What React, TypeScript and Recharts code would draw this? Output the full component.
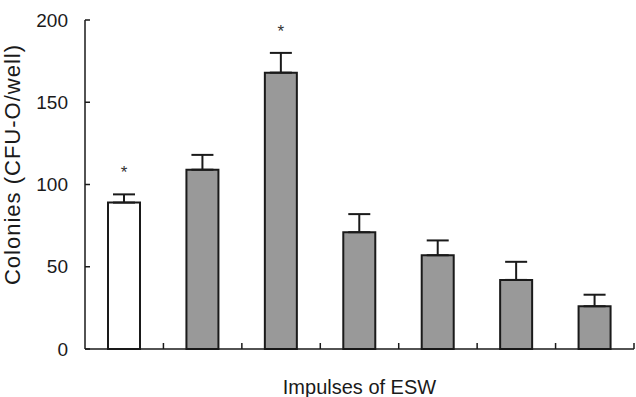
import React from "react";
import { ComposedChart, Bar, Cell, ErrorBar, XAxis, YAxis, LabelList } from "recharts";

const groups = ["G1", "G2", "G3", "G4", "G5", "G6", "G7"];
const colonies = [89, 109, 168, 71, 57, 42, 26];
const sem = [5, 9, 12, 11, 9, 11, 7];
const marked = [true, false, true, false, false, false, false];
const fills = ["#ffffff", "#999999", "#999999", "#999999", "#999999", "#999999", "#999999"];
const yTicks = [0, 50, 100, 150, 200];

const data = groups.map((g, i) => ({
    name: g,
    value: colonies[i],
    err: [0, sem[i]],
}));

const font = "'Liberation Sans', Arial, Helvetica, sans-serif";
const ink = "#1a1a1a";

// asterisk above the error cap, placed from the bar's own pixel scale
function Star(props: any) {
    const { x, y, width, height, index } = props;
    if (!marked[index]) return null;
    const pxPerUnit = height / colonies[index];
    const cap = y - sem[index] * pxPerUnit;
    return (
        <text x={x + width / 2} y={cap - 16} textAnchor="middle" fontSize={17} fontFamily={font} fill="#333">
            *
        </text>
    );
}

// x ticks sit on the boundaries between groups and point up into the plot
function EdgeTick(props: any) {
    const { x, y, payload } = props;
    const bx = x + (payload.offset || 0);
    return <line x1={bx} x2={bx} y1={y} y2={y - 6} stroke={ink} strokeWidth={1.5} />;
}

export default function App() {
    return (
        <div style={{ position: "absolute", left: 0, top: 0, width: 636, height: 397, background: "#fff" }}>
            <ComposedChart width={636} height={397} data={data} margin={{ top: 20, right: 2, bottom: 0, left: 0 }}>
                <XAxis
                    dataKey="name"
                    height={48}
                    tickLine={false}
                    tickSize={0}
                    tickMargin={0}
                    tick={EdgeTick}
                    stroke={ink}
                    strokeWidth={1.5}
                    label={{ value: "Impulses of ESW", position: "insideBottom", offset: 3, fontSize: 20, fontFamily: font, fill: ink }}
                />
                <YAxis
                    domain={[0, 200]}
                    ticks={yTicks}
                    width={85}
                    tickSize={-5}
                    tickMargin={22}
                    stroke={ink}
                    strokeWidth={1.5}
                    tick={{ fontSize: 19, fontFamily: font, fill: ink }}
                    label={{ value: "Colonies (CFU-O/well)", angle: -90, position: "insideLeft", offset: 0, dx: 12, dy: -20, style: { textAnchor: "middle", letterSpacing: 1 }, fontSize: 22, fontFamily: font, fill: ink }}
                />
                <Bar dataKey="value" barSize={32} stroke={ink} strokeWidth={2} isAnimationActive={false}>
                    {data.map((d, i) => (
                        <Cell key={d.name} fill={fills[i]} />
                    ))}
                    <ErrorBar dataKey="err" width={11} stroke={ink} strokeWidth={2} direction="y" />
                    <LabelList dataKey="value" content={Star} />
                </Bar>
            </ComposedChart>
        </div>
    );
}
